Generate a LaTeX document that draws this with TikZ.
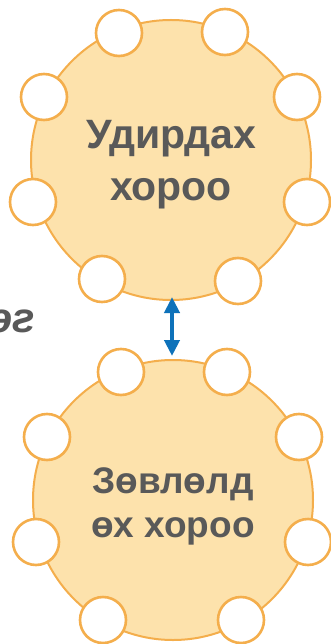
\documentclass[tikz,border=0pt]{standalone}
\usepackage{fontspec}
\setmainfont{Liberation Sans}
\usetikzlibrary{arrows.meta}
\definecolor{cfill}{HTML}{FDE2AC}
\definecolor{cline}{HTML}{F4AE4C}
\definecolor{ctext}{HTML}{595959}
\definecolor{carrow}{HTML}{0E72BA}
\begin{document}
\begin{tikzpicture}[x=1pt,y=-1pt,
  bigc/.style={circle,draw=cline,fill=cfill,line width=2pt,minimum size=280pt,inner sep=0pt},
  smallc/.style={circle,draw=cline,fill=white,line width=2.6pt,minimum size=46pt,inner sep=0pt},
  lbl/.style={text=ctext,font=\bfseries,align=center}]
\useasboundingbox (0,0) rectangle (331,644);
\clip (0,0) rectangle (331,644);
% top group
\node[bigc] (top) at (171,160) {};
\foreach \n/\dx/\dy in {a/-52/-127,b/54/-128,c/-127/-63,d/126/-63,e/-138/42,f/136/42,g/-69/119,h/67/121}
  \node[smallc] (t\n) at (171+\dx,160+\dy) {};
\node[lbl,font=\bfseries\fontsize{41}{52}\selectfont] (ttext) at (171,165) {Удирдах\\хороо};
% bottom group
\node[bigc] (bot) at (173,500) {};
\foreach \n/\dx/\dy in {a/-52/-128,b/54/-128,c/-126/-63,d/126/-63,e/-137/42,f/135/42,g/-70/120,h/68/120}
  \node[smallc] (b\n) at (173+\dx,500+\dy) {};
\node[lbl,font=\bfseries\fontsize{37}{44}\selectfont] (btext) at (173,506) {Зөвлөлд\\өх хороо};
% arrow
\coordinate (p1) at (172,297);
\coordinate (p2) at (172,356);
\draw[carrow,line width=4.5pt,{Triangle[width=15pt,length=16pt]}-{Triangle[width=15pt,length=16pt]}] (p1) -- (p2);
% cut text (cut off at the left edge as in the reference)
\node[text=ctext,font=\bfseries\itshape\fontsize{42}{42}\selectfont,anchor=base east,inner sep=0pt] (side) at (35,332) {эг};
\end{tikzpicture}
\end{document}
